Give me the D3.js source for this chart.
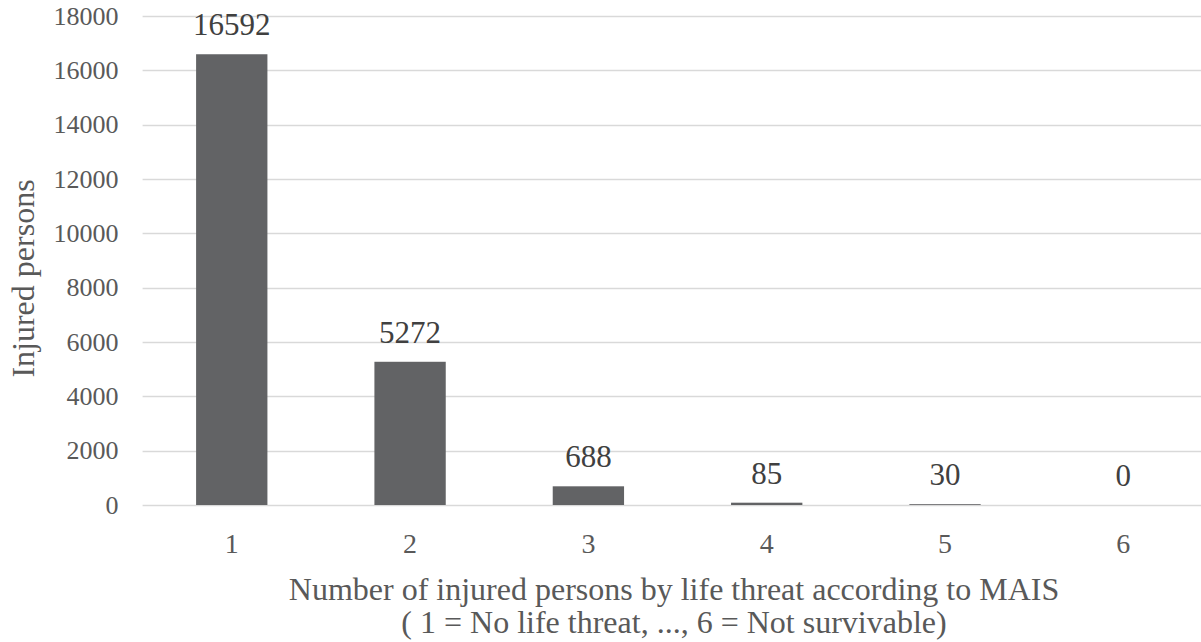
<!DOCTYPE html>
<html>
<head>
<meta charset="utf-8">
<script src="https://cdn.jsdelivr.net/npm/d3@7"></script>
<style>
  html, body { margin: 0; padding: 0; background: #fff; }
  svg { display: block; }
  svg text { font-family: "Liberation Serif", "Times New Roman", Times, serif; }
</style>
</head>
<body>
<svg id="chart" width="1201" height="642"></svg>
<script>
// MAIS levels and counts of injured persons
const categories = ["1", "2", "3", "4", "5", "6"];
const injured = [16592, 5272, 688, 85, 30, 0];
const yTicks = [0, 2000, 4000, 6000, 8000, 10000, 12000, 14000, 16000, 18000];
const yTitle = "Injured persons";
const xTitle = ["Number of injured persons by life threat according to MAIS",
                "( 1 = No life threat, ..., 6 = Not survivable)"];

const svg = d3.select("#chart");
const plot = { left: 142.6, right: 1212.5, top: 16, bottom: 505 };

const x = d3.scaleBand()
  .domain(categories)
  .range([plot.left, plot.right])
  .paddingInner(0.6)
  .paddingOuter(0.3);

const y = d3.scaleLinear()
  .domain([0, 18000])
  .range([plot.bottom, plot.top]);

// horizontal gridlines
svg.append("g")
  .selectAll("line")
  .data(yTicks)
  .join("line")
  .attr("x1", plot.left)
  .attr("x2", plot.right)
  .attr("y1", d => Math.round(y(d)) + 0.5)
  .attr("y2", d => Math.round(y(d)) + 0.5)
  .attr("stroke", "#d9d9d9")
  .attr("stroke-width", 1.5);

// y axis labels
const yAxis = svg.append("g")
  .attr("transform", `translate(${plot.left - 24},0)`)
  .call(d3.axisLeft(y).tickValues(yTicks).tickSize(0).tickPadding(0).tickFormat(d3.format("d")));
yAxis.attr("font-family", null).attr("font-size", null);
yAxis.select(".domain").remove();
yAxis.selectAll("text")
  .attr("font-size", 26)
  .attr("fill", "#595959");

// bars
svg.append("g")
  .selectAll("rect")
  .data(injured)
  .join("rect")
  .attr("x", (d, i) => x(categories[i]))
  .attr("width", x.bandwidth())
  .attr("y", d => y(d))
  .attr("height", d => Math.max(0, y(0) - y(d)))
  .attr("fill", "#626365");

// value labels
svg.append("g")
  .selectAll("text")
  .data(injured)
  .join("text")
  .attr("x", (d, i) => x(categories[i]) + x.bandwidth() / 2)
  .attr("y", d => y(d) - 19)
  .attr("text-anchor", "middle")
  .attr("font-size", 31)
  .attr("fill", "#404040")
  .text(d => d);

// x axis category labels
const xAxis = svg.append("g")
  .attr("transform", `translate(0,${plot.bottom})`)
  .call(d3.axisBottom(x).tickSize(0).tickPadding(0));
xAxis.attr("font-family", null).attr("font-size", null);
xAxis.select(".domain").remove();
xAxis.selectAll("text")
  .attr("dy", null)
  .attr("y", 48)
  .attr("font-size", 28)
  .attr("fill", "#595959");

// axis titles
svg.append("text")
  .attr("transform", `translate(34,${(plot.top + plot.bottom) / 2 + 18}) rotate(-90)`)
  .attr("text-anchor", "middle")
  .attr("font-size", 32)
  .attr("fill", "#595959")
  .text(yTitle);

const xt = svg.append("text")
  .attr("text-anchor", "middle")
  .attr("font-size", 32)
  .attr("fill", "#595959");
xt.selectAll("tspan")
  .data(xTitle)
  .join("tspan")
  .attr("x", 674)
  .attr("y", (d, i) => 600 + i * 33)
  .text(d => d);
</script>
</body>
</html>
